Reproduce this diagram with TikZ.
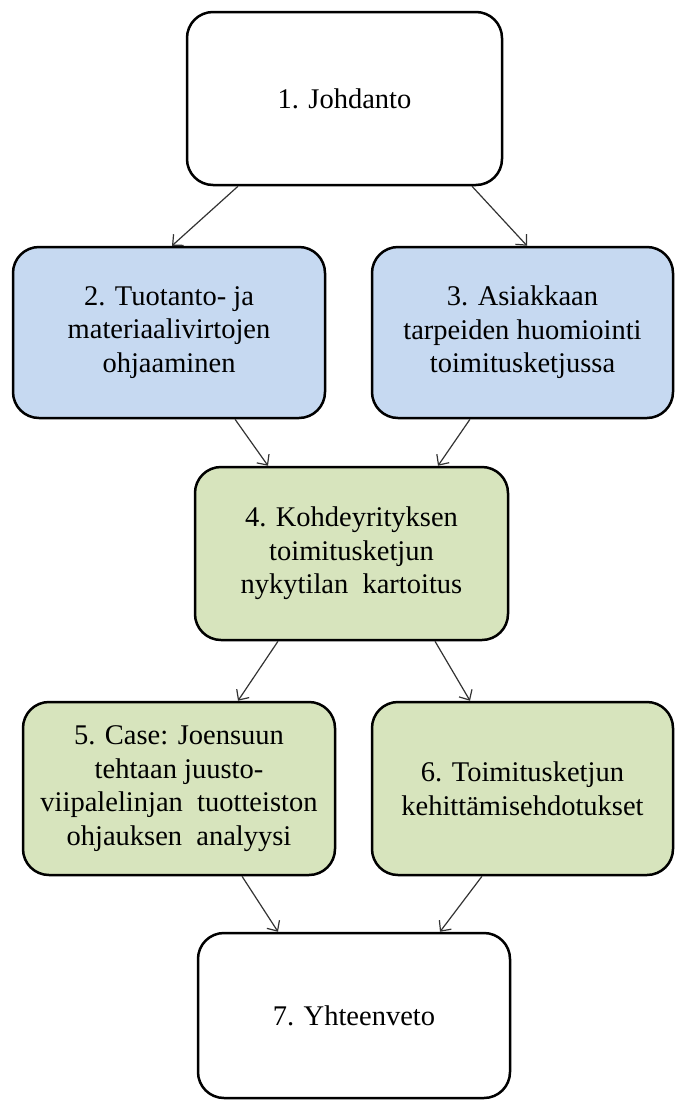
\documentclass[tikz,border=0pt]{standalone}
\usepackage{fontspec}
\setmainfont{Liberation Serif}
\usetikzlibrary{arrows.meta}
\definecolor{boxblue}{HTML}{C6D9F1}
\definecolor{boxgreen}{HTML}{D7E4BD}
\definecolor{arrowgray}{HTML}{333333}
\begin{document}
\begin{tikzpicture}[x=1pt,y=-1pt,
  box/.style={draw=black, line width=2.5pt, rounded corners=26pt, inner sep=0pt,
    align=center, font=\fontsize{28.5}{33.5}\selectfont, text=black},
  whitebox/.style={box, fill=white},
  bluebox/.style={box, fill=boxblue},
  greenbox/.style={box, fill=boxgreen},
  conn/.style={draw=arrowgray, line width=1.2pt, -{Straight Barb[length=8pt,width=15pt,line width=1.2pt]}}
]
\useasboundingbox (0,0) rectangle (675,1101);
\node[whitebox, minimum width=315pt, minimum height=173pt] (b1) at (344.5,98.5) {1. Johdanto};
\node[bluebox, minimum width=312pt, minimum height=171pt] (b2) at (169,332.5) {2. Tuotanto- ja\\materiaalivirtojen\\ohjaaminen};
\node[bluebox, minimum width=301pt, minimum height=171pt] (b3) at (522.5,332.5) {3. Asiakkaan\\tarpeiden huomiointi\\toimitusketjussa};
\node[greenbox, minimum width=313pt, minimum height=173pt] (b4) at (351.5,553.5) {4. Kohdeyrityksen\\toimitusketjun\\nykytilan\ \ kartoitus};
\node[greenbox, minimum width=312pt, minimum height=173pt] (b5) at (179,788.5) {5. Case: Joensuun\\tehtaan juusto-\\viipalelinjan\ \ tuotteiston\\ohjauksen\ \ analyysi};
\node[greenbox, minimum width=301pt, minimum height=173pt] (b6) at (522.5,788.5) {6. Toimitusketjun\\kehittämisehdotukset};
\node[whitebox, minimum width=312pt, minimum height=165pt] (b7) at (354,1015.5) {7. Yhteenveto};

\draw[conn] ([xshift=-106.5pt]b1.south) -- ([xshift=3pt]b2.north);
\draw[conn] ([xshift=127.5pt]b1.south) -- ([xshift=4.5pt]b3.north);
\draw[conn] ([xshift=66pt]b2.south) -- ([xshift=-83.5pt]b4.north);
\draw[conn] ([xshift=-52.5pt]b3.south) -- ([xshift=86.5pt]b4.north);
\draw[conn] ([xshift=-73.5pt]b4.south) -- ([xshift=59pt]b5.north);
\draw[conn] ([xshift=83.5pt]b4.south) -- ([xshift=-52.5pt]b6.north);
\draw[conn] ([xshift=63pt]b5.south) -- ([xshift=-76pt]b7.north);
\draw[conn] ([xshift=-40.5pt]b6.south) -- ([xshift=86pt]b7.north);
\end{tikzpicture}
\end{document}
